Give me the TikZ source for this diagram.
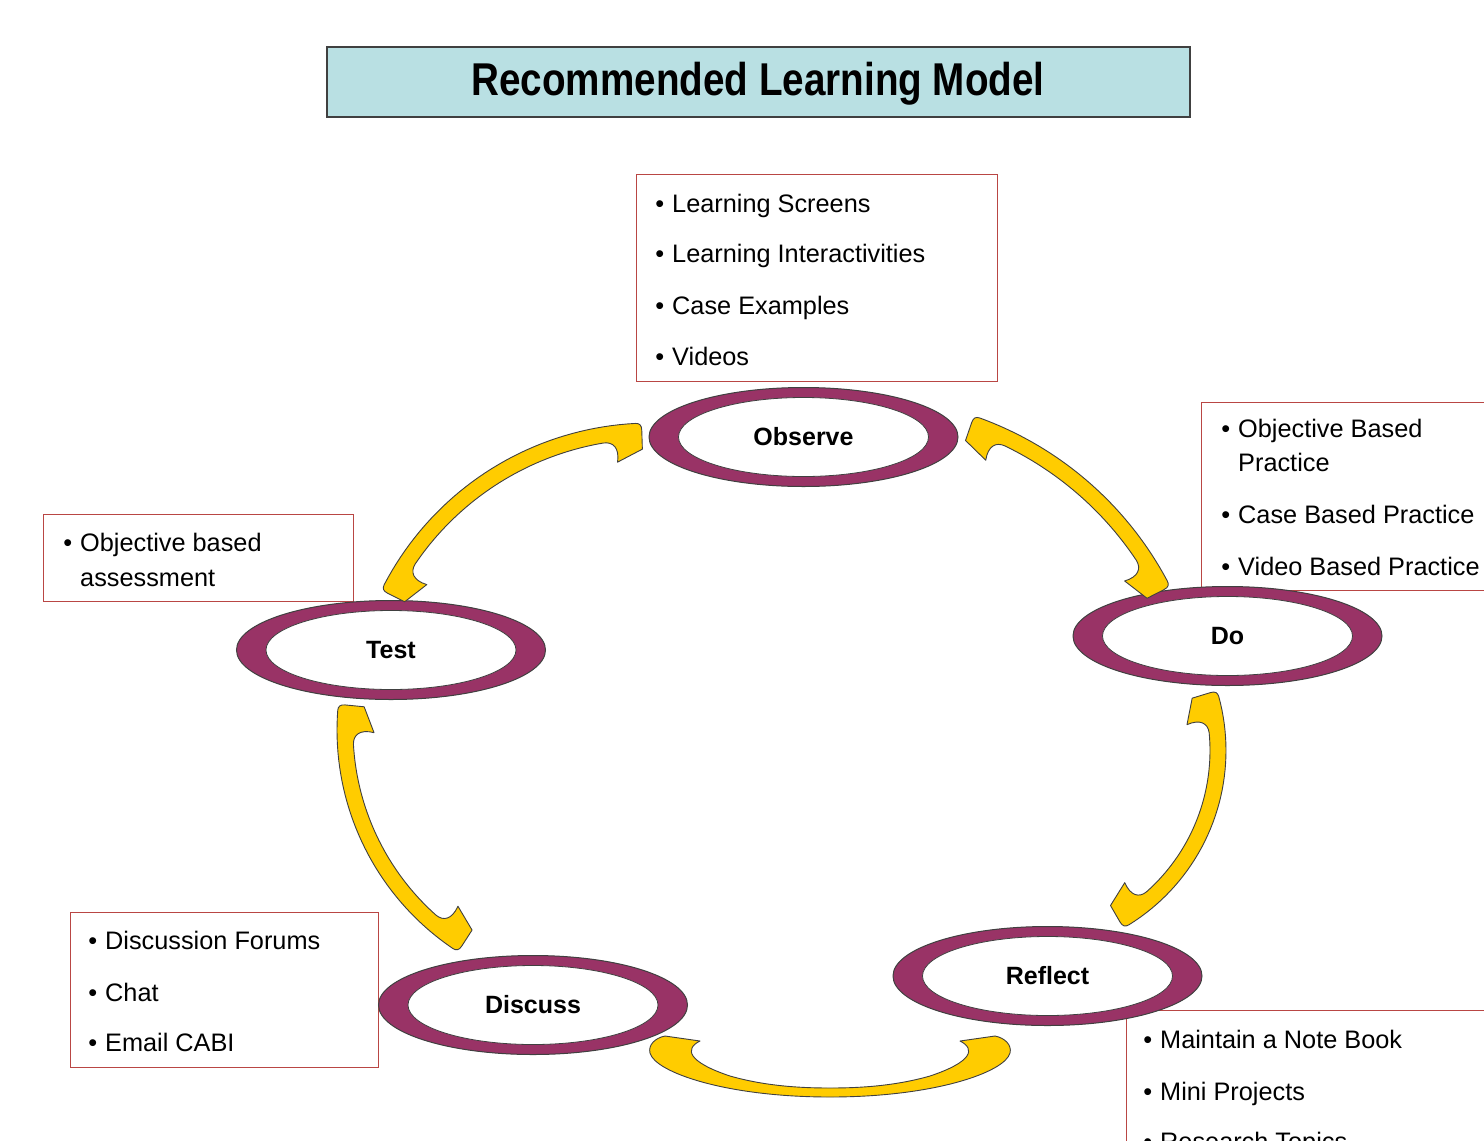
\documentclass[tikz,border=0pt]{standalone}
\usepackage{fontspec}
\setmainfont{Liberation Sans}
\newfontfamily\titlefont[FakeStretch=0.84]{Liberation Sans}
\usetikzlibrary{shapes.geometric}
\definecolor{plum}{RGB}{153,51,102}
\definecolor{gold}{RGB}{255,204,0}
\definecolor{boxred}{RGB}{185,70,68}
\definecolor{titlebg}{RGB}{185,224,227}
\definecolor{edgegray}{RGB}{64,64,64}
\tikzset{
 ring/.style={ellipse, draw=edgegray, line width=1pt, fill=plum, minimum width=309pt, minimum height=99pt, inner sep=0pt},
 core/.style={ellipse, draw=edgegray, line width=0.8pt, fill=white, minimum width=250pt, minimum height=79pt, inner sep=0pt, font=\fontsize{25}{30}\selectfont\bfseries},
 infobox/.style={draw=boxred, line width=1.4pt, fill=white, anchor=north west, inner sep=0pt},
 item/.style={anchor=base west, inner sep=0pt, font=\fontsize{25.3}{30}\selectfont},
 yarrow/.style={fill=gold, draw=edgegray, line width=0.9pt, line join=round},
 titlebox/.style={draw=edgegray, line width=1.5pt, fill=titlebg, minimum width=863pt, minimum height=70pt, inner sep=0pt},
 titletext/.style={inner sep=0pt, font=\fontsize{46}{50}\selectfont\titlefont\bfseries},
}
\newcommand{\bitem}[4]{\node[item] (#1) at (#2,#3) {\llap{\textbullet\hspace{8pt}}#4};}
\newcommand{\citem}[4]{\node[item] (#1) at (#2,#3) {#4};}
\newcommand{\ringarrow}[5]{%
 \begin{scope}[shift={(#1,#2)}]
 \pgfmathsetmacro\RAk{57.2958/#3}
 \pgfmathsetmacro\RAro{#3+8}
 \pgfmathsetmacro\RAri{#3-8}
 \pgfmathsetmacro\RArt{#3-18}
 \pgfmathsetmacro\RArb{#3-29}
 \pgfmathsetmacro\RArh{#3-15}
 \pgfmathsetmacro\RArc{#3+6}
 \pgfmathsetmacro\RArd{#3+1}
 \pgfmathsetmacro\RAoA{#4+6*\RAk}
 \pgfmathsetmacro\RAoAc{#4+2*\RAk}
 \pgfmathsetmacro\RAoB{#5-6*\RAk}
 \pgfmathsetmacro\RAoBc{#5-2*\RAk}
 \pgfmathsetmacro\RAbA{#4+28*\RAk}
 \pgfmathsetmacro\RAbB{#5-28*\RAk}
 \pgfmathsetmacro\RAhA{#4+24*\RAk}
 \pgfmathsetmacro\RAhB{#5-24*\RAk}
 \pgfmathsetmacro\RAiAc{#4+30*\RAk}
 \pgfmathsetmacro\RAiBc{#5-30*\RAk}
 \pgfmathsetmacro\RAiA{#4+40*\RAk}
 \pgfmathsetmacro\RAiB{#5-40*\RAk}
 \draw[yarrow] plot[domain=\RAoA:\RAoB, samples=40, variable=\t] (\t:\RAro)
   .. controls (\RAoBc:\RAro) and (#5:\RArc) .. (#5:\RArd)
   -- (#5:\RArt) -- (\RAbB:\RArb)
   .. controls (\RAhB:\RArh) and (\RAiBc:\RAri) .. (\RAiB:\RAri)
   -- plot[domain=\RAiB:\RAiA, samples=40, variable=\t] (\t:\RAri)
   .. controls (\RAiAc:\RAri) and (\RAhA:\RArh) .. (\RAbA:\RArb)
   -- (#4:\RArt) -- (#4:\RArd)
   .. controls (#4:\RArc) and (\RAoAc:\RAro) .. (\RAoA:\RAro) -- cycle;
 \end{scope}}
\begin{document}
\begin{tikzpicture}[x=1pt, y=-1pt]
\useasboundingbox (0,0) rectangle (1484,1141);
\clip (0,0) rectangle (1484,1141);
\fill[white] (0,0) rectangle (1484,1141);

% title
\node[titlebox] (title) at (758.5,82) {};
\node[titletext] (titlet) at (758,84) {Recommended Learning Model};

% info boxes
\node[infobox, minimum width=361pt, minimum height=207pt] (obsbox) at (636,174) {};
\node[infobox, minimum width=320pt, minimum height=188pt] (dobox) at (1201,402) {};
\node[infobox, minimum width=310pt, minimum height=87pt] (testbox) at (43,514) {};
\node[infobox, minimum width=308pt, minimum height=155pt] (discbox) at (70,912) {};
\node[infobox, minimum width=380pt, minimum height=160pt] (reflbox) at (1126,1010) {};

% box texts
\bitem{o1}{672}{212}{Learning Screens}
\bitem{o2}{672}{262}{Learning Interactivities}
\bitem{o3}{672}{314}{Case Examples}
\bitem{o4}{672}{365}{Videos}

\bitem{d1}{1238}{437}{Objective Based}
\citem{d1b}{1238}{471}{Practice}
\bitem{d2}{1238}{523}{Case Based Practice}
\bitem{d3}{1238}{575}{Video Based Practice}

\bitem{t1}{80}{551}{Objective based}
\citem{t1b}{80}{586}{assessment}

\bitem{s1}{105}{949}{Discussion Forums}
\bitem{s2}{105}{1001}{Chat}
\bitem{s3}{105}{1051}{Email CABI}

\bitem{r1}{1160}{1048}{Maintain a Note Book}
\bitem{r2}{1160}{1100}{Mini Projects}
\bitem{r3}{1160}{1150}{Research Topics}

% ellipses
\node[ring] (observe) at (803.5,437) {};
\node[core] (observec) at (observe) {Observe};
\node[ring] (do) at (1227.5,636) {};
\node[core] (doc) at (do) {Do};
\node[ring] (reflect) at (1047.5,976) {};
\node[core] (reflectc) at (reflect) {Reflect};
\node[ring] (discuss) at (533,1005) {};
\node[core] (discussc) at (discuss) {Discuss};
\node[ring] (test) at (391,650) {};
\node[core] (testc) at (test) {Test};

% curved double arrows
\ringarrow{651}{724}{293}{206.4}{268.2}
\ringarrow{861}{744}{339}{289}{333}
\ringarrow{1021}{750.5}{197}{-17}{60}
\ringarrow{601}{730}{256}{122.8}{185.6}
\draw[yarrow] (665,1036) -- (700,1041)
 .. controls (684,1049) and (688,1062) .. (730,1076)
 .. controls (765,1086) and (800,1088) .. (830,1088)
 .. controls (860,1088) and (895,1086) .. (930,1076)
 .. controls (972,1062) and (976,1049) .. (960,1041)
 -- (995,1036)
 .. controls (1005,1038) and (1012,1045) .. (1010,1053)
 .. controls (1005,1072) and (935,1097) .. (830,1097)
 .. controls (725,1097) and (655,1072) .. (650,1053)
 .. controls (648,1045) and (655,1038) .. (665,1036) -- cycle;
\end{tikzpicture}
\end{document}
